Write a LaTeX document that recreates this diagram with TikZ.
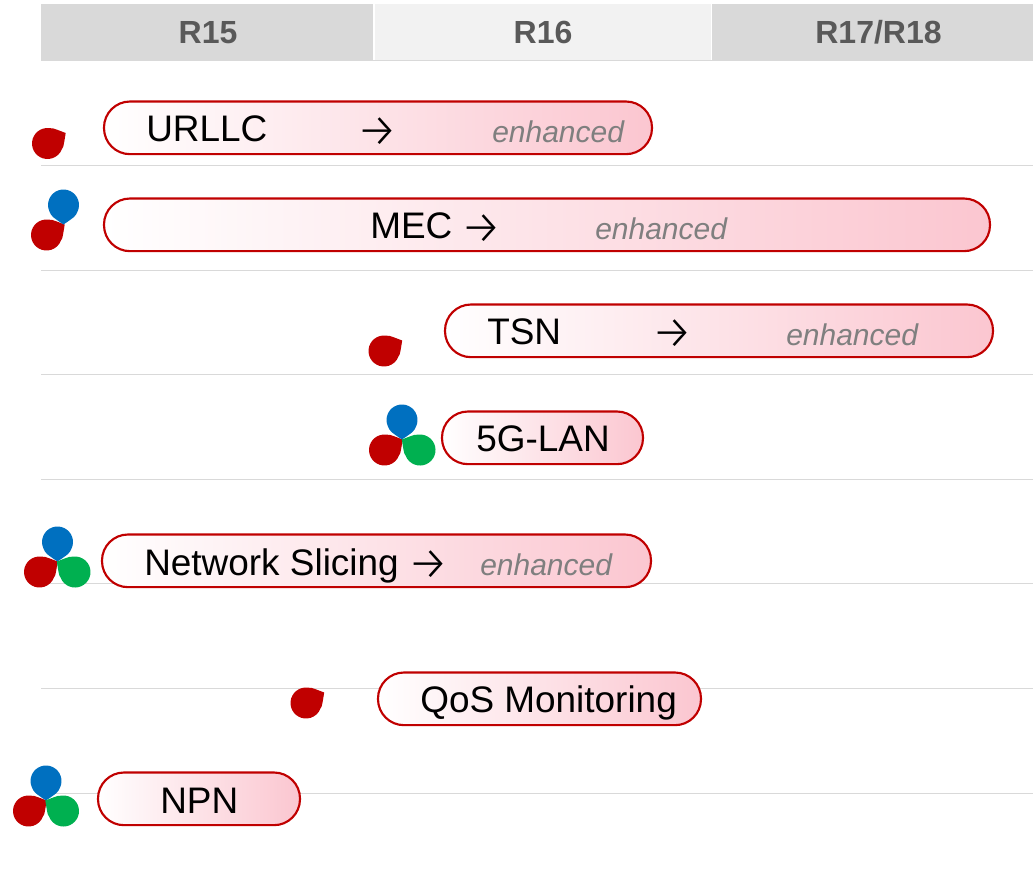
\documentclass[tikz,border=0pt]{standalone}
\usepackage{fontspec}
\setmainfont{Liberation Sans}
\newfontfamily\arrowfont{Fira Sans Light}
\usetikzlibrary{calc}
\definecolor{hdr}{HTML}{D9D9D9}
\definecolor{hdrl}{HTML}{F2F2F2}
\definecolor{hdrt}{HTML}{595959}
\definecolor{rulec}{HTML}{D9D9D9}
\definecolor{barred}{HTML}{C00000}
\definecolor{barpink}{HTML}{FBC6D0}
\definecolor{dropb}{HTML}{0070C0}
\definecolor{dropg}{HTML}{00B050}
\definecolor{enh}{HTML}{7F7F7F}
\newcommand{\PX}{0.75pt}
\tikzset{
  hbox/.style={rectangle,inner sep=0pt,minimum height=42pt,anchor=north west,fill=hdr},
  htext/.style={inner sep=0pt,anchor=base,text=hdrt,font=\fontsize{24}{28}\selectfont\bfseries},
  bar/.style={rectangle,rounded corners=19.5pt,draw=barred,line width=1.6pt,left color=white,right color=barpink,shading angle=90,inner sep=0pt,outer sep=0pt,anchor=north west,minimum height=39.5pt},
  lab/.style={inner sep=0pt,anchor=base west,text=black,font=\fontsize{27.7}{32}\selectfont},
  enhlab/.style={inner sep=0pt,anchor=base west,text=enh,font=\fontsize{22.5}{26}\selectfont\itshape},
  arr/.style={inner sep=0pt,anchor=base west,text=black,font=\arrowfont\fontsize{35}{40}\selectfont},
  rowline/.style={draw=rulec,line width=0.75pt}
}
% \dropshape{x}{y}{angle}{tip length}{colour}: teardrop, pixel centre, angle counter-clockwise
\newcommand{\dropshape}[5]{%
  \coordinate (dc) at (#1*0.75pt,-#2*0.75pt);%
  \fill[#5] ($(dc)+(#3:#4*0.75pt)$)
    .. controls ($(dc)+(#3+65:11.625pt)+(#3+65-90:4.1pt)$) .. ($(dc)+(#3+65:11.625pt)$)
    arc[start angle=#3+65,end angle=#3+295,radius=11.625pt]
    .. controls ($(dc)+(#3+295:11.625pt)+(#3+295+90:4.1pt)$) .. cycle;}
\begin{document}
\begin{tikzpicture}[x=\PX,y=-\PX]
\useasboundingbox (0,0) rectangle (1033,893);
% header
\node[hbox,minimum width=249pt] (r15) at (41,4) {};
\node[hbox,fill=hdrl,minimum width=252pt] (r16) at (375,4) {};
\node[hbox,minimum width=240.75pt] (r17) at (712,4) {};
\node[htext] (tr15) at (208,43) {R15};
\node[htext] (tr16) at (543,43) {R16};
\node[htext] (tr17) at (878.5,43) {R17/R18};
\draw[rowline] (r15.south west) -- (r17.south east);
% rows
\foreach \yy/\nm in {165/a,270/b,374/c,479/d,583/e,688/f,793/g}
  \draw[rowline] (41,\yy) coordinate (l\nm) -- (1033,\yy) coordinate (r\nm);
% bars
\node[bar,minimum width=411pt] (urllc) at (104,101.5) {};
\node[lab] (t1) at (146,141) {URLLC};
\node[arr] (a1) at (356.5,146) {→};
\node[enhlab] (e1) at (492,142) {enhanced};

\node[bar,minimum width=664.5pt] (mec) at (104,198.5) {};
\node[lab] (t2) at (370,238.5) {MEC};
\node[arr] (a2) at (460.5,243) {→};
\node[enhlab] (e2) at (595,239) {enhanced};

\node[bar,minimum width=411pt] (tsn) at (445,304.5) {};
\node[lab] (t3) at (487,344.5) {TSN};
\node[arr] (a3) at (651.5,348) {→};
\node[enhlab] (e3) at (786,345) {enhanced};

\node[bar,minimum width=150.75pt] (lan) at (442,411.5) {};
\node[lab] (t4) at (476,451) {5G-LAN};

\node[bar,minimum width=411.75pt] (slice) at (102,534.5) {};
\node[lab] (t5) at (144,575) {Network Slicing};
\node[arr] (a5) at (407.5,579) {→};
\node[enhlab] (e5) at (480,575) {enhanced};

\node[bar,minimum width=242.25pt] (qos) at (378,672.5) {};
\node[lab] (t6) at (420,712) {QoS Monitoring};

\node[bar,minimum width=151.5pt] (npn) at (98,772.5) {};
\node[lab] (t7) at (160,813) {NPN};
% drops
\dropshape{47.5}{143.5}{30}{21}{barred}
\dropshape{46.5}{235}{30}{21}{barred}
\dropshape{63.5}{205}{270}{19.5}{dropb}
\dropshape{384}{351}{30}{21}{barred}
\dropshape{384.5}{450}{30}{21}{barred}
\dropshape{402}{420}{270}{19.5}{dropb}
\dropshape{420}{450}{150}{21}{dropg}
\dropshape{39.5}{572}{30}{21}{barred}
\dropshape{57.5}{542}{270}{19.5}{dropb}
\dropshape{75}{572}{150}{21}{dropg}
\dropshape{306}{703}{30}{21}{barred}
\dropshape{28.5}{811}{30}{21}{barred}
\dropshape{46}{781}{270}{19.5}{dropb}
\dropshape{63.5}{811}{150}{21}{dropg}
\end{tikzpicture}
\end{document}
